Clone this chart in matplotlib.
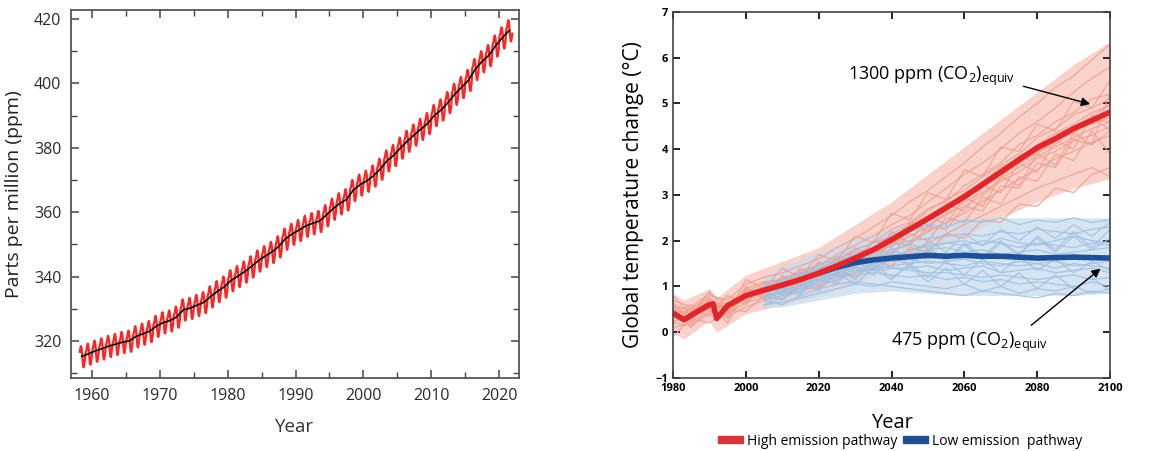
import numpy as np
import matplotlib.pyplot as plt
from matplotlib.patches import Patch
from matplotlib.ticker import MultipleLocator

# ---- Left panel: CO2 at Mauna Loa (annual means + seasonal cycle) ----
co2_years = list(range(1958, 2022))
co2_annual = [315.2, 316.0, 316.9, 317.6, 318.4, 319.0, 319.6, 320.0, 321.4, 322.2,
              323.0, 324.6, 325.7, 326.3, 327.5, 329.7, 330.2, 331.1, 332.0, 333.8,
              335.4, 336.8, 338.8, 340.1, 341.5, 343.1, 344.9, 346.3, 347.6, 349.3,
              351.7, 353.2, 354.4, 355.7, 356.5, 357.2, 359.0, 361.0, 362.7, 363.9,
              366.8, 368.5, 369.7, 371.3, 373.4, 376.0, 377.7, 380.0, 382.1, 384.0,
              385.8, 387.6, 390.1, 391.8, 394.1, 396.7, 398.8, 401.0, 404.4, 406.8,
              408.7, 411.7, 414.2, 416.4]
season_offset = [0.1, 0.7, 1.4, 2.6, 3.2, 2.5, 0.9, -1.4, -3.2, -3.4, -2.1, -1.0]

# ---- Right panel: temperature projections ----
mean_years = [1980, 1983, 1986, 1990, 1991, 1992, 1995, 2000, 2005, 2010, 2015, 2020,
              2025, 2030, 2035, 2040, 2045, 2050, 2055, 2060, 2065, 2070, 2075, 2080,
              2085, 2090, 2095, 2100]
high_mean = [0.42, 0.27, 0.42, 0.60, 0.62, 0.30, 0.58, 0.80, 0.92, 1.03, 1.15, 1.29,
             1.45, 1.62, 1.80, 2.02, 2.25, 2.48, 2.72, 2.96, 3.23, 3.50, 3.77, 4.03,
             4.23, 4.45, 4.63, 4.81]
low_years = [2020, 2025, 2030, 2035, 2040, 2045, 2050, 2055, 2060, 2065, 2070, 2075,
             2080, 2085, 2090, 2095, 2100]
low_mean = [1.29, 1.42, 1.52, 1.58, 1.62, 1.65, 1.68, 1.66, 1.68, 1.66, 1.66, 1.64,
            1.62, 1.63, 1.64, 1.63, 1.62]

# spread of the ensembles
band_years_high = [1980, 1983, 1990, 1992, 2000, 2010, 2020, 2030, 2040, 2050, 2060,
                   2070, 2080, 2090, 2100]
high_lower = [0.00, -0.15, 0.25, 0.00, 0.40, 0.60, 0.80, 1.05, 1.40, 1.75, 2.10,
              2.50, 2.85, 3.15, 3.35]
high_upper = [0.85, 0.70, 0.95, 0.75, 1.25, 1.55, 1.85, 2.35, 2.85, 3.45, 4.05,
              4.65, 5.25, 5.85, 6.35]
band_years_low = [2005, 2010, 2020, 2030, 2040, 2050, 2060, 2070, 2080, 2090, 2100]
low_lower = [0.55, 0.55, 0.70, 0.85, 0.90, 0.85, 0.80, 0.80, 0.80, 0.80, 0.85]
low_upper = [1.20, 1.45, 1.75, 2.05, 2.30, 2.45, 2.50, 2.50, 2.50, 2.50, 2.50]

member_years_high = list(range(1980, 2101, 5))
high_members = [
    [0.55, 0.50, 0.80, 0.70, 1.05, 1.20, 1.30, 1.45, 1.60, 1.85, 2.05, 2.30, 2.55, 2.85, 3.10, 3.40, 3.70, 4.05, 4.35, 4.70, 5.00, 5.35, 5.60, 5.95, 6.30],
    [0.20, 0.15, 0.40, 0.35, 0.55, 0.70, 0.80, 0.90, 1.00, 1.15, 1.30, 1.40, 1.60, 1.75, 1.95, 2.15, 2.35, 2.55, 2.75, 2.95, 3.15, 3.30, 3.45, 3.60, 3.40],
    [0.60, 0.45, 0.70, 0.50, 0.90, 0.95, 1.20, 1.25, 1.50, 1.55, 1.80, 1.95, 2.25, 2.40, 2.70, 2.85, 3.20, 3.45, 3.70, 4.10, 4.30, 4.60, 4.80, 5.10, 5.20],
    [0.30, 0.35, 0.55, 0.65, 0.70, 1.00, 0.95, 1.10, 1.20, 1.40, 1.50, 1.70, 1.90, 2.10, 2.30, 2.60, 2.75, 3.00, 3.30, 3.50, 3.80, 3.95, 4.20, 4.30, 4.50],
    [0.45, 0.25, 0.65, 0.45, 0.85, 0.80, 1.10, 1.30, 1.35, 1.60, 1.75, 1.85, 2.15, 2.35, 2.65, 2.90, 3.10, 3.40, 3.65, 3.90, 4.25, 4.45, 4.75, 4.90, 5.10],
    [0.35, 0.50, 0.50, 0.60, 0.75, 0.90, 1.00, 1.05, 1.25, 1.35, 1.55, 1.75, 1.90, 2.20, 2.35, 2.55, 2.85, 3.05, 3.35, 3.60, 3.85, 4.05, 4.25, 4.45, 4.60],
    [0.70, 0.55, 0.85, 0.60, 0.95, 1.10, 1.15, 1.35, 1.45, 1.70, 1.90, 2.10, 2.35, 2.55, 2.85, 3.15, 3.45, 3.70, 4.00, 4.35, 4.60, 4.90, 5.25, 5.55, 5.80],
    [0.10, 0.20, 0.45, 0.40, 0.65, 0.75, 0.90, 1.05, 1.15, 1.30, 1.45, 1.60, 1.75, 1.95, 2.20, 2.40, 2.60, 2.85, 3.10, 3.35, 3.55, 3.80, 3.95, 4.15, 4.30],
    [0.50, 0.40, 0.60, 0.55, 0.80, 0.95, 1.10, 1.20, 1.35, 1.50, 1.70, 1.85, 2.10, 2.30, 2.55, 2.80, 3.00, 3.30, 3.60, 3.80, 4.10, 4.35, 4.55, 4.80, 4.95],
    [0.25, 0.30, 0.70, 0.50, 0.70, 0.85, 0.95, 1.20, 1.25, 1.45, 1.60, 1.80, 1.95, 2.25, 2.45, 2.65, 2.95, 3.15, 3.45, 3.70, 3.95, 4.10, 4.40, 4.55, 4.70],
    [0.40, 0.45, 0.75, 0.45, 0.90, 1.05, 1.05, 1.25, 1.40, 1.55, 1.65, 1.95, 2.05, 2.35, 2.50, 2.75, 3.05, 3.25, 3.55, 3.85, 4.05, 4.30, 4.50, 4.70, 5.00],
    [0.55, 0.30, 0.55, 0.60, 0.80, 0.85, 1.15, 1.15, 1.30, 1.40, 1.70, 1.85, 2.00, 2.20, 2.45, 2.70, 2.90, 3.20, 3.40, 3.70, 3.90, 4.20, 4.35, 4.65, 4.60],
    [0.80, 0.35, 0.90, 0.40, 1.15, 0.95, 1.40, 1.20, 1.70, 1.55, 2.10, 1.95, 2.60, 2.45, 3.05, 2.90, 3.55, 3.40, 4.05, 3.95, 4.55, 4.40, 5.05, 4.90, 5.50],
    [-0.10, 0.30, 0.20, 0.50, 0.45, 0.80, 0.70, 1.05, 0.95, 1.30, 1.20, 1.55, 1.45, 1.85, 1.75, 2.15, 2.05, 2.45, 2.40, 2.80, 2.75, 3.15, 3.05, 3.45, 3.60],
    [0.40, 0.60, 0.45, 0.80, 0.65, 1.10, 0.95, 1.40, 1.20, 1.65, 1.50, 2.00, 1.85, 2.40, 2.20, 2.80, 2.65, 3.20, 3.05, 3.70, 3.50, 4.20, 4.00, 4.75, 4.40],
    [0.65, 0.20, 0.75, 0.30, 1.00, 0.70, 1.25, 1.00, 1.55, 1.30, 1.85, 1.60, 2.20, 1.95, 2.55, 2.35, 2.95, 2.75, 3.40, 3.20, 3.90, 3.65, 4.35, 4.10, 5.25],
    [0.20, 0.55, 0.35, 0.80, 0.60, 1.00, 0.85, 1.30, 1.10, 1.55, 1.40, 1.85, 1.70, 2.15, 2.00, 2.50, 2.40, 2.95, 2.80, 3.40, 3.30, 3.90, 3.75, 4.40, 3.90],
    [0.50, 0.10, 0.60, 0.20, 0.95, 0.75, 1.20, 1.00, 1.40, 1.25, 1.65, 1.55, 1.95, 1.90, 2.30, 2.25, 2.75, 2.65, 3.20, 3.15, 3.70, 3.60, 4.20, 4.10, 4.40],
]

member_years_low = list(range(2005, 2101, 5))
low_members = [
    [0.90, 1.10, 1.30, 1.45, 1.65, 1.80, 1.95, 2.10, 2.20, 2.35, 2.30, 2.45, 2.40, 2.50, 2.35, 2.45, 2.40, 2.50, 2.40, 2.45],
    [0.70, 0.60, 0.80, 0.95, 1.05, 1.10, 1.05, 1.00, 0.95, 0.90, 0.85, 0.80, 0.90, 0.85, 0.80, 0.75, 0.85, 0.80, 0.90, 0.85],
    [1.00, 0.95, 1.20, 1.30, 1.50, 1.60, 1.70, 1.80, 1.90, 1.85, 1.95, 2.00, 1.90, 2.05, 1.95, 1.90, 2.00, 2.10, 2.00, 1.95],
    [0.80, 0.90, 1.00, 1.15, 1.25, 1.35, 1.35, 1.40, 1.40, 1.45, 1.35, 1.40, 1.45, 1.30, 1.35, 1.40, 1.30, 1.35, 1.40, 1.30],
    [0.95, 1.05, 1.10, 1.35, 1.40, 1.55, 1.65, 1.75, 1.70, 1.80, 1.85, 1.75, 1.80, 1.70, 1.75, 1.80, 1.70, 1.75, 1.80, 1.85],
    [0.75, 0.85, 0.95, 1.05, 1.20, 1.25, 1.30, 1.25, 1.20, 1.25, 1.15, 1.20, 1.10, 1.15, 1.05, 1.10, 1.05, 1.00, 1.10, 1.00],
    [0.85, 1.00, 1.20, 1.40, 1.55, 1.70, 1.80, 1.90, 2.00, 2.05, 2.10, 2.15, 2.10, 2.20, 2.15, 2.25, 2.20, 2.15, 2.25, 2.30],
    [0.60, 0.75, 0.90, 1.10, 1.20, 1.30, 1.40, 1.45, 1.50, 1.55, 1.50, 1.45, 1.55, 1.50, 1.45, 1.50, 1.55, 1.45, 1.50, 1.55],
    [1.05, 1.15, 1.25, 1.40, 1.55, 1.65, 1.60, 1.70, 1.65, 1.60, 1.70, 1.65, 1.60, 1.65, 1.70, 1.60, 1.65, 1.70, 1.60, 1.65],
    [0.70, 0.80, 0.95, 1.10, 1.25, 1.35, 1.50, 1.55, 1.60, 1.50, 1.55, 1.60, 1.50, 1.45, 1.55, 1.50, 1.40, 1.50, 1.45, 1.40],
    [0.90, 0.95, 1.15, 1.25, 1.35, 1.45, 1.55, 1.65, 1.80, 1.90, 1.95, 1.90, 2.00, 1.95, 1.85, 1.95, 1.90, 1.85, 1.95, 1.90],
    [0.80, 0.85, 1.05, 1.20, 1.30, 1.40, 1.45, 1.40, 1.35, 1.30, 1.30, 1.25, 1.20, 1.25, 1.20, 1.15, 1.20, 1.25, 1.15, 1.20],
    [0.55, 0.95, 0.80, 1.30, 1.10, 1.60, 1.40, 1.85, 1.60, 2.00, 1.75, 2.15, 1.90, 2.25, 2.00, 2.30, 2.05, 2.35, 2.10, 2.40],
    [1.10, 0.80, 1.30, 1.00, 1.45, 1.15, 1.50, 1.20, 1.45, 1.10, 1.40, 1.05, 1.35, 1.00, 1.30, 0.95, 1.25, 0.95, 1.20, 0.90],
    [0.65, 1.00, 0.85, 1.20, 1.05, 1.45, 1.25, 1.65, 1.45, 1.80, 1.55, 1.90, 1.60, 1.95, 1.70, 2.05, 1.75, 2.10, 1.80, 2.05],
    [0.95, 0.70, 1.10, 0.90, 1.30, 1.05, 1.40, 1.15, 1.50, 1.20, 1.55, 1.25, 1.60, 1.30, 1.65, 1.35, 1.60, 1.30, 1.55, 1.35],
    [0.80, 1.05, 0.95, 1.35, 1.20, 1.55, 1.35, 1.70, 1.50, 1.85, 1.60, 1.95, 1.65, 2.00, 1.70, 2.10, 1.80, 2.20, 1.85, 2.25],
    [0.60, 0.65, 0.75, 0.85, 0.95, 1.05, 1.00, 1.10, 1.05, 1.00, 0.95, 1.05, 0.90, 1.00, 0.85, 0.95, 0.90, 1.00, 0.85, 0.95],
]

plt.rcParams['font.family'] = ['Open Sans', 'DejaVu Sans']

fig = plt.figure(figsize=(11.54, 4.51), dpi=100)

# ---------------- left chart ----------------
ax1 = fig.add_axes([0.0615, 0.162, 0.388, 0.816])

# monthly red curve = annual mean + seasonal offset
t_month, v_month = [], []
for i, yr in enumerate(co2_years):
    for m in range(12):
        if yr == 1958 and m < 2:
            continue
        t_month.append(yr + (m + 0.5) / 12)
        v_month.append(co2_annual[i] + season_offset[m])
ax1.plot(t_month, v_month, color='#ff2424', lw=1.6)
ax1.plot(np.array(co2_years) + 0.5, co2_annual, color='#111111', lw=1.3)

ax1.set_xlim(1956.9, 2022.9)
ax1.set_ylim(308.5, 422.8)
ax1.xaxis.set_major_locator(MultipleLocator(10))
ax1.xaxis.set_minor_locator(MultipleLocator(5))
ax1.yaxis.set_major_locator(MultipleLocator(20))
ax1.yaxis.set_minor_locator(MultipleLocator(10))
ax1.tick_params(which='both', direction='in', top=True, right=True, color='#444444')
ax1.tick_params(which='major', length=6, width=1.1, labelsize=11.5, labelcolor='#2a2a2a', pad=7)
ax1.tick_params(which='minor', length=4, width=1.0)
for s in ax1.spines.values():
    s.set_color('#555555')
    s.set_linewidth(1.3)
ax1.set_xlabel('Year', fontsize=13.5, color='#333333', labelpad=10)
ax1.set_ylabel('Parts per million (ppm)', fontsize=14, color='#222222', labelpad=8)

# ---------------- right chart ----------------
ax2 = fig.add_axes([0.5832, 0.162, 0.3787, 0.8115])

ax2.fill_between(band_years_high, high_lower, high_upper, color='#f9d3cb', lw=0)
for mem in high_members:
    ax2.plot(member_years_high, mem, color='#f0a092', lw=0.9, alpha=0.9)
ax2.fill_between(band_years_low, low_lower, low_upper, color='#c9dcee', alpha=0.75, lw=0)
for mem in low_members:
    ax2.plot(member_years_low, mem, color='#9fc1e2', lw=0.9, alpha=0.9)
ax2.plot(low_years, low_mean, color='#1d4f96', lw=4, solid_capstyle='butt')
ax2.plot(mean_years, high_mean, color='#e0262b', lw=4, solid_capstyle='butt')

ax2.set_xlim(1980, 2100)
ax2.set_ylim(-1, 7)
ax2.xaxis.set_major_locator(MultipleLocator(20))
ax2.yaxis.set_major_locator(MultipleLocator(1))
ax2.tick_params(direction='in', top=True, right=True, length=5, width=1.2,
                labelsize=8)
for lab in ax2.get_xticklabels() + ax2.get_yticklabels():
    lab.set_fontweight('bold')
for s in ax2.spines.values():
    s.set_color('#444444')
    s.set_linewidth(1.2)
ax2.set_xlabel('Year', fontsize=14.5, labelpad=14)
ax2.set_ylabel('Global temperature change (°C)', fontsize=15, labelpad=8)

ax2.annotate(r'1300 ppm (CO$\mathregular{_2}$)$\mathregular{_{equiv}}$',
             xy=(2095.3, 4.97), xytext=(2074, 5.6), fontsize=13,
             ha='right', va='center',
             arrowprops=dict(arrowstyle='-|>', color='black', lw=1.0,
                             relpos=(1.0, 0.15), shrinkA=4))
ax2.annotate(r'475 ppm (CO$\mathregular{_2}$)$\mathregular{_{equiv}}$',
             xy=(2098, 1.43), xytext=(2083, -0.22), fontsize=13,
             ha='right', va='center',
             arrowprops=dict(arrowstyle='-|>', color='black', lw=1.0,
                             relpos=(0.85, 1.0), shrinkA=3))

handles = [Patch(color='#d9343c', label='High emission pathway'),
           Patch(color='#1d4f91', label='Low emission  pathway')]
fig.legend(handles=handles, loc='center', bbox_to_anchor=(0.78, 0.022), ncol=2,
           frameon=False, fontsize=10, handlelength=1.8, handleheight=0.45,
           handletextpad=0.3, columnspacing=0.4, borderpad=0)

fig.savefig('out.png', dpi=100)
